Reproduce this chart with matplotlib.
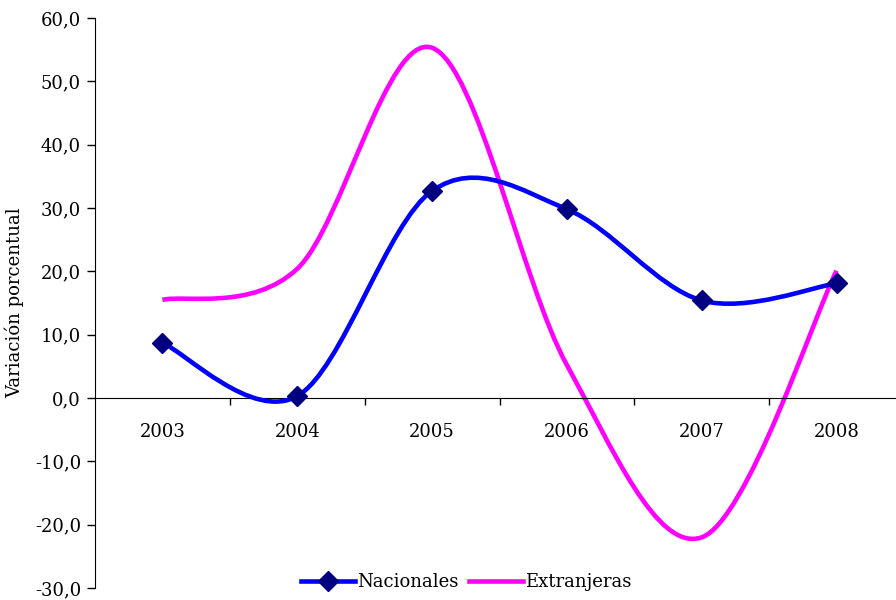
import numpy as np
import matplotlib
matplotlib.use("Agg")
import matplotlib.pyplot as plt
from matplotlib.path import Path
from matplotlib.patches import PathPatch
from matplotlib.lines import Line2D
from matplotlib.ticker import FuncFormatter

# data
years = ["2003", "2004", "2005", "2006", "2007", "2008"]
nacionales = [8.7, 0.3, 32.7, 29.8, 15.4, 18.1]
extranjeras = [15.5, 20.4, 55.3, 5.2, -22.0, 20.1]

plt.rcParams['font.family'] = ['DejaVu Serif']

# smooth line like Excel (bezier through the points)
def smooth_path(xs, ys):
    pts = np.column_stack([xs, ys]).astype(float)
    n = len(pts)
    verts = [pts[0]]
    codes = [Path.MOVETO]
    for i in range(n - 1):
        p0 = pts[i - 1] if i > 0 else pts[i]
        p1 = pts[i]
        p2 = pts[i + 1]
        p3 = pts[i + 2] if i + 2 < n else pts[i + 1]
        c1 = p1 + (p2 - p0) / 6.0
        c2 = p2 - (p3 - p1) / 6.0
        verts += [c1, c2, p2]
        codes += [Path.CURVE4] * 3
    return Path(verts, codes)

fig = plt.figure(figsize=(8.96, 6), dpi=100)
ax = fig.add_axes([95/896, 12/600, 809/896, 570/600])

x = np.arange(len(years))
blue = "#0000FF"
magenta = "#FF00FF"
navy = "#000080"

ax.add_patch(PathPatch(smooth_path(x, extranjeras), facecolor="none",
                       edgecolor=magenta, lw=3.3, capstyle="butt", zorder=2))
ax.add_patch(PathPatch(smooth_path(x, nacionales), facecolor="none",
                       edgecolor=blue, lw=3.3, capstyle="butt", zorder=3))
ax.plot(x, nacionales, ls="none", marker="D", ms=10, color=navy, zorder=4)

ax.set_xlim(-0.5, 5.5)
ax.set_ylim(-30, 60)
ax.set_yticks(np.arange(-30, 61, 10))
ax.yaxis.set_major_formatter(FuncFormatter(lambda v, p: f"{v:.1f}".replace(".", ",")))
ax.tick_params(axis="y", direction="out", length=6, width=1, labelsize=13, pad=4)

ax.spines["bottom"].set_position(("data", 0))
ax.spines["top"].set_visible(False)
ax.spines["right"].set_visible(False)
ax.set_xticks(x)
ax.set_xticklabels(years)
ax.set_xticks(np.arange(0.5, 5.0, 1.0), minor=True)
ax.tick_params(axis="x", which="major", length=0, labelsize=13, pad=18)
ax.tick_params(axis="x", which="minor", direction="out", length=5, width=1)

ax.set_ylabel("Variación porcentual", fontsize=13, labelpad=8)

handles = [
    Line2D([], [], color=blue, lw=3.3, marker="D", ms=10, mfc=navy, mec=navy),
    Line2D([], [], color=magenta, lw=3.3),
]
fig.legend(handles, ["Nacionales", "Extranjeras"], loc="center",
           bbox_to_anchor=(466/896, 1 - 582/600), ncol=2, frameon=False,
           fontsize=13, handlelength=3, handletextpad=0.1, columnspacing=0.6)

fig.savefig("out.png", dpi=100)
